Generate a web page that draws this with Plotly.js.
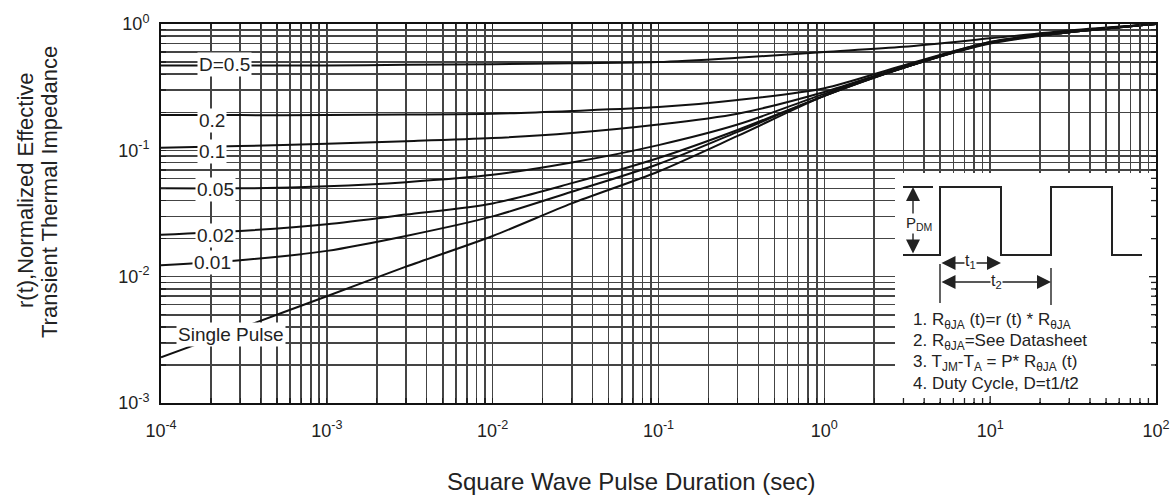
<!DOCTYPE html>
<html>
<head>
<meta charset="utf-8">
<script src="https://cdn.plot.ly/plotly-3.0.1.min.js"></script>
<style>html,body{margin:0;padding:0;background:#fff;}#chart{width:1174px;height:497px;}</style>
</head>
<body>
<div id="chart"></div>
<script>
// ---- data ----
const pulseTime = [1e-4, 3e-4, 1e-3, 3e-3, 1e-2, 3e-2, 1e-1, 3e-1, 1, 3, 10, 30, 100];
const singlePulse = [0.0023, 0.0039, 0.0070, 0.0120, 0.021, 0.038, 0.068, 0.13, 0.27, 0.45, 0.70, 0.86, 1.0];
const duty001 = [0.0123, 0.0135, 0.016, 0.021, 0.030, 0.047, 0.078, 0.14, 0.27, 0.45, 0.71, 0.86, 1.0];
const duty002 = [0.0215, 0.023, 0.026, 0.031, 0.038, 0.055, 0.087, 0.145, 0.27, 0.45, 0.71, 0.86, 1.0];
const duty005 = [0.050, 0.050, 0.052, 0.056, 0.064, 0.080, 0.11, 0.16, 0.28, 0.45, 0.71, 0.86, 1.0];
const duty01 = [0.105, 0.108, 0.113, 0.118, 0.125, 0.137, 0.16, 0.195, 0.29, 0.46, 0.72, 0.87, 1.0];
const duty02 = [0.19, 0.19, 0.19, 0.192, 0.195, 0.205, 0.22, 0.25, 0.31, 0.47, 0.72, 0.87, 1.0];
const duty05 = [0.47, 0.47, 0.47, 0.475, 0.48, 0.49, 0.50, 0.54, 0.60, 0.66, 0.77, 0.89, 1.0];

const seriesNames = ['D=0.5', '0.2', '0.1', '0.05', '0.02', '0.01', 'Single Pulse'];
const seriesValues = [duty05, duty02, duty01, duty005, duty002, duty001, singlePulse];

const xDecades = [-4, -3, -2, -1, 0, 1, 2];
const xTickLabels = ['10<sup>-4</sup>', '10<sup>-3</sup>', '10<sup>-2</sup>', '10<sup>-1</sup>', '10<sup>0</sup>', '10<sup>1</sup>', '10<sup>2</sup>'];
const yDecades = [-3, -2, -1, 0];
const yTickLabels = ['10<sup>-3</sup>', '10<sup>-2</sup>', '10<sup>-1</sup>', '10<sup>0</sup>'];

const xTitle = 'Square Wave Pulse Duration (sec)';
const yTitleLines = ['r(t),Normalized Effective', 'Transient Thermal Impedance'];

const noteLines = [
  '1. R<sub>θJA</sub> (t)=r (t) * R<sub>θJA</sub>',
  '2. R<sub>θJA</sub>=See Datasheet',
  '3. T<sub>JM</sub>-T<sub>A</sub> = P* R<sub>θJA</sub> (t)',
  '4. Duty Cycle, D=t1/t2'
];

// ---- layout helpers ----
const W = 1174, H = 497;
const M = {l: 161, r: 18, t: 24, b: 94};
const PW = W - M.l - M.r, PH = H - M.t - M.b;
const px = x => (x - M.l) / PW;
const py = y => (H - M.b - y) / PH;
const xPix = v => M.l + PW * (Math.log10(v) + 4) / 6;
const yPix = v => H - M.b - PH * (Math.log10(v) + 3) / 3;

function logTicks(decades, labels) {
  const vals = [], text = [];
  for (let i = 0; i < decades.length; i++) {
    const d = decades[i];
    const last = i === decades.length - 1;
    for (let k = 1; k <= (last ? 1 : 9); k++) {
      vals.push(k * Math.pow(10, d));
      text.push(k === 1 ? labels[i] : '');
    }
  }
  return {vals, text};
}
const xt = logTicks(xDecades, xTickLabels);
const yt = logTicks(yDecades, yTickLabels);

const FONT = 'Liberation Sans, Arial, sans-serif';
const TXT = '#222';

const traces = seriesValues.map((vals, i) => ({
  x: pulseTime, y: vals, type: 'scatter', mode: 'lines', name: seriesNames[i],
  line: {color: '#111', width: 2, shape: 'spline', smoothing: 0.8},
  hoverinfo: 'skip'
}));

function txt(x, y, text, size, extra) {
  return Object.assign({xref: 'paper', yref: 'paper', x: px(x), y: py(y), text: text,
    showarrow: false, xanchor: 'center', yanchor: 'middle',
    font: {family: FONT, size: size, color: TXT}}, extra || {});
}

const labelPos = [[224, 65], [212, 120], [212, 151], [215, 189], [215, 235], [212, 262], [231, 334]];
const annotations = seriesNames.map((n, i) =>
  txt(labelPos[i][0], labelPos[i][1], n, 19, {bgcolor: '#fff', borderpad: 1}));

// axis titles
annotations.push(txt(631, 481, xTitle, 24));
annotations.push(txt(26, 190, yTitleLines[0], 22, {textangle: -90}));
annotations.push(txt(49, 192, yTitleLines[1], 22, {textangle: -90}));

// inset notes
const noteY = [321, 342, 363, 383];
noteLines.forEach((t, i) => annotations.push(txt(911, noteY[i], t, 17, {xanchor: 'left'})));

// inset arrows
function arrow(x1, y1, x2, y2) {
  return {xref: 'paper', yref: 'paper', x: px(x2), y: py(y2), ax: x1 - x2, ay: y1 - y2,
    axref: 'pixel', ayref: 'pixel', text: '', showarrow: true, arrowhead: 2, arrowside: 'end+start',
    arrowsize: 2, arrowwidth: 1.4, arrowcolor: TXT};
}
annotations.push(arrow(913, 255, 913, 187));
annotations.push(arrow(940, 263, 1001, 263));
annotations.push(arrow(940, 282, 1051, 282));
annotations.push(txt(919, 223, 'P<sub>DM</sub>', 15, {bgcolor: '#fff', borderpad: 0}));
annotations.push(txt(970, 261, 't<sub>1</sub>', 16, {bgcolor: '#fff', borderpad: 0}));
annotations.push(txt(996, 281, 't<sub>2</sub>', 16, {bgcolor: '#fff', borderpad: 0}));

const wavePts = [[903, 255], [940, 255], [940, 187], [1001, 187], [1001, 255], [1051, 255], [1051, 187], [1112, 187], [1112, 255], [1142, 255]];
const wavePath = wavePts.map((p, i) => (i ? 'L' : 'M') + px(p[0]) + ',' + py(p[1])).join(' ');

const boxL = 895, boxT = 173, plotR = M.l + PW, plotB = H - M.b;
const shapes = [
  {type: 'rect', xref: 'paper', yref: 'paper', x0: px(boxL), x1: px(plotR - 1), y0: py(plotB - 1), y1: py(boxT),
    fillcolor: '#fff', line: {width: 0}, layer: 'above'},
  {type: 'path', xref: 'paper', yref: 'paper', path: wavePath, line: {color: TXT, width: 2}},
  {type: 'line', xref: 'paper', yref: 'paper', x0: px(903), x1: px(933), y0: py(187), y1: py(187), line: {color: TXT, width: 2}},
  {type: 'line', xref: 'paper', yref: 'paper', x0: px(940), x1: px(940), y0: py(264), y1: py(303), line: {color: TXT, width: 1.4}},
  {type: 'line', xref: 'paper', yref: 'paper', x0: px(1051), x1: px(1051), y0: py(268), y1: py(305), line: {color: TXT, width: 1.4}}
];
// redraw the inside ticks that the inset box covers
xt.vals.forEach(v => {
  const X = xPix(v);
  if (X > boxL + 2 && X < plotR - 2) {
    const len = Math.abs(Math.log10(v) - Math.round(Math.log10(v))) < 1e-9 ? 7 : 5;
    shapes.push({type: 'line', xref: 'paper', yref: 'paper', x0: px(X), x1: px(X), y0: 0, y1: py(plotB - len),
      line: {color: TXT, width: 1.3}, layer: 'above'});
  }
});
yt.vals.forEach(v => {
  const Y = yPix(v);
  if (Y > boxT + 2 && Y < plotB - 2) {
    const len = Math.abs(Math.log10(v) - Math.round(Math.log10(v))) < 1e-9 ? 7 : 5;
    shapes.push({type: 'line', xref: 'paper', yref: 'paper', x0: 1, x1: px(plotR - len), y0: py(Y), y1: py(Y),
      line: {color: TXT, width: 1.3}, layer: 'above'});
  }
});

const axisCommon = {
  type: 'log', tickmode: 'array', ticks: 'inside', ticklen: 5, tickwidth: 1.2, tickcolor: TXT,
  showgrid: true, gridcolor: '#444', gridwidth: 1.6, zeroline: false,
  showline: true, linecolor: '#111', linewidth: 2, mirror: 'ticks',
  tickfont: {family: FONT, size: 18, color: TXT}
};

const layout = {
  width: W, height: H, margin: M, showlegend: false,
  paper_bgcolor: '#fff', plot_bgcolor: '#fff',
  xaxis: Object.assign({}, axisCommon, {range: [-4, 2], tickvals: xt.vals, ticktext: xt.text, ticklabelstandoff: 10}),
  yaxis: Object.assign({}, axisCommon, {range: [-3, 0], tickvals: yt.vals, ticktext: yt.text, ticklabelstandoff: 6}),
  annotations: annotations,
  shapes: shapes
};

Plotly.newPlot('chart', traces, layout, {staticPlot: true, displayModeBar: false});
</script>
</body>
</html>
